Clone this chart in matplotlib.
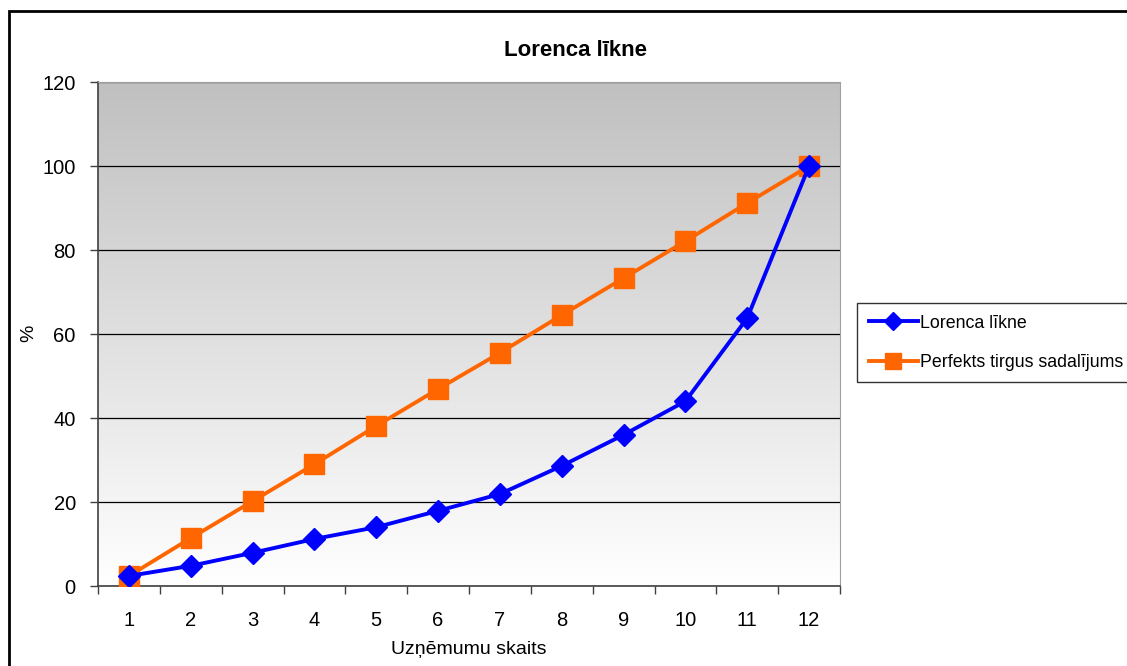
import numpy as np
import matplotlib.pyplot as plt
from matplotlib.patches import Rectangle
from matplotlib.colors import LinearSegmentedColormap

plt.rcParams['font.family'] = ['Liberation Sans', 'DejaVu Sans']

kategorijas = [str(i) for i in range(1, 13)]
lorenca = [2.4, 4.8, 7.9, 11.2, 14.0, 17.9, 21.9, 28.6, 36.0, 44.0, 63.8, 100.0]
perfekts = [2.4, 11.4, 20.2, 29.0, 38.1, 46.9, 55.5, 64.5, 73.3, 82.1, 91.2, 100.0]

W, H = 1127, 666
fig = plt.figure(figsize=(W / 100, H / 100), dpi=100)
ax = fig.add_axes([98 / W, 1 - 586 / H, 742 / W, 504 / H])

# pelēks gradients fonā
grad = np.linspace(0, 1, 256).reshape(-1, 1)
cmap = LinearSegmentedColormap.from_list('g', ['#ffffff', '#c0c0c0'])
ax.imshow(grad, cmap=cmap, origin='lower', aspect='auto',
          extent=(0, 1, 0, 1), transform=ax.transAxes, zorder=0)

x = np.arange(len(kategorijas))
ax.plot(x, lorenca, color='#0000ff', lw=2.8, marker='D', ms=11,
        label='Lorenca līkne', zorder=4)
ax.plot(x, perfekts, color='#ff6600', lw=2.8, marker='s', ms=14,
        label='Perfekts tirgus sadalījums', zorder=3)

ax.set_xlim(-0.5, 11.5)
ax.set_ylim(0, 120)
ax.set_yticks(range(0, 121, 20))
ax.set_xticks(x)
ax.set_xticklabels(kategorijas)
ax.set_xticks(np.arange(-0.5, 12, 1), minor=True)
ax.tick_params(axis='x', which='major', length=0, pad=18, labelsize=14.5)
ax.tick_params(axis='x', which='minor', length=6, width=1, color='#404040')
ax.tick_params(axis='y', length=6, width=1, color='#404040', labelsize=14.5, pad=10)
ax.grid(axis='y', color='black', lw=0.9, zorder=1)
ax.set_axisbelow(True)

for s in ['top', 'right']:
    ax.spines[s].set_color('#a0a0a0')
    ax.spines[s].set_linewidth(0.8)
for s in ['left', 'bottom']:
    ax.spines[s].set_color('#404040')
    ax.spines[s].set_linewidth(1.2)

fig.text(575 / W, 1 - 50 / H, 'Lorenca līkne', fontsize=16,
         fontweight='bold', ha='center', va='center')
fig.text(469 / W, 1 - 650 / H, 'Uzņēmumu skaits', fontsize=14,
         ha='center', va='center')
fig.text(29 / W, 1 - 333 / H, '%', fontsize=14, rotation=90,
         ha='center', va='center')

leg = ax.legend(loc='upper left', bbox_to_anchor=(857 / W, 1 - 303 / H),
                bbox_transform=fig.transFigure, fontsize=12.8, frameon=True,
                fancybox=False, edgecolor='black', handlelength=2.8,
                handletextpad=0.1, borderpad=0.65, labelspacing=1.25,
                borderaxespad=0, markerscale=0.8)
leg.get_frame().set_linewidth(1)

# ārējais rāmis
fig.add_artist(Rectangle((9 / W, -0.01), 1.2, 1 - 11 / H + 0.01,
                         transform=fig.transFigure, fill=False,
                         edgecolor='black', lw=2))

fig.savefig('out.png', dpi=100)
